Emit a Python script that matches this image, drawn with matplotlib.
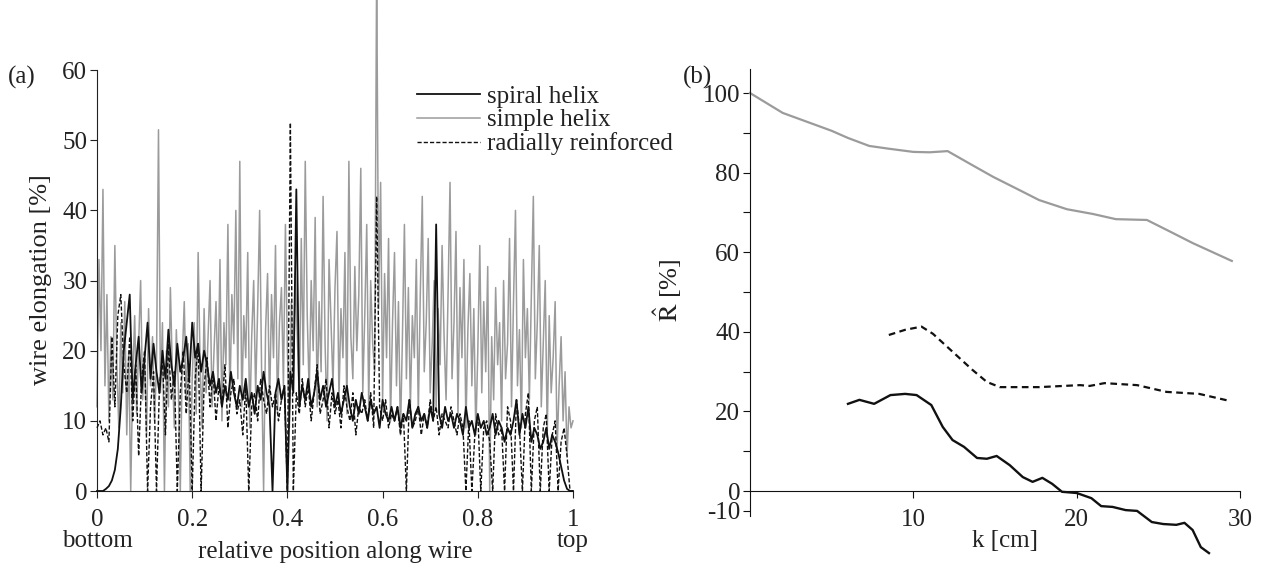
import numpy as np
import matplotlib
matplotlib.use("Agg")
import matplotlib.pyplot as plt

plt.rcParams['font.family'] = ['Liberation Serif', 'DejaVu Serif']
plt.rcParams['mathtext.fontset'] = 'stix'
plt.rcParams['font.size'] = 18

# ---------------- data: panel (a) ----------------
simple_helix = [
    12, 33, 20, 43, 15, 28, 10, 22, 13, 35,
    18, 9, 24, 14, 27, 8, 20, 0, 16, 25,
    11, 21, 30, 13, 19, 8, 26, 15, 22, 10,
    18, 51.5, 14, 24, 0, 20, 12, 29, 17, 9,
    23, 15, 0, 19, 27, 13, 21, 0, 16, 24,
    11, 34, 18, 9, 26, 14, 22, 30, 12, 20,
    27, 15, 33, 10, 24, 18, 38, 13, 28, 21,
    40, 16, 47, 12, 25, 19, 34, 9, 22, 30,
    14, 26, 40, 17, 0, 23, 31, 12, 28, 19,
    35, 11, 24, 29, 15, 38, 20, 9, 27, 16,
    31, 22, 13, 36, 18, 47, 25, 14, 30, 20,
    39, 12, 27, 17, 42, 21, 10, 33, 24, 15,
    29, 37, 13, 26, 19, 34, 11, 47, 22, 16,
    32, 20, 28, 46, 14, 25, 38, 12, 30, 21,
    17, 75, 26, 44, 13, 31, 19, 36, 10, 24,
    34, 15, 27, 8, 22, 38, 16, 29, 12, 25,
    19, 33, 11, 28, 42, 17, 24, 36, 14, 21,
    30, 12, 26, 18, 35, 22, 13, 28, 44, 16,
    24, 37, 11, 29, 19, 33, 9, 23, 31, 15,
    26, 8, 20, 35, 14, 27, 17, 32, 0, 22,
    13, 29, 18, 24, 10, 30, 16, 21, 36, 12,
    27, 40, 15, 23, 9, 33, 19, 26, 13, 28,
    42, 16, 24, 35, 12, 21, 30, 8, 25, 14,
    19, 27, 6, 15, 22, 10, 17, 5, 12, 9,
    10]

spiral_helix = [
    0, 0, 0, 0.3, 0.7, 1.5, 3, 6, 12, 20,
    24, 28, 13, 18, 22, 14, 19, 24, 16, 21,
    17, 14, 20, 16, 23, 18, 15, 21, 17, 19,
    22, 16, 24, 19, 21, 17, 20, 18, 15, 17,
    14, 16, 12, 15, 13, 17, 14, 12, 15, 13,
    16, 12, 14, 11, 15, 13, 17, 14, 12, 0,
    14, 16, 13, 15, 0, 17, 14, 43, 12, 15,
    13, 16, 12, 14, 17, 13, 15, 12, 14, 16,
    12, 14, 11, 13, 15, 12, 10, 13, 11, 14,
    12, 10, 13, 11, 12, 9, 13, 11, 10, 12,
    10, 12, 9, 11, 10, 13, 9, 11, 12, 10,
    11, 9, 12, 10, 38, 11, 9, 12, 10, 11,
    9, 11, 10, 8, 12, 9, 10, 8, 11, 9,
    10, 8, 9, 11, 8, 10, 9, 7, 9, 8,
    10, 13, 8, 11, 9, 12, 7, 9, 8, 6,
    7, 9, 6, 8, 7, 5.5, 3.5, 1.5, 0.3, 0,
    0]

radially_reinforced = [
    9, 10, 8, 9, 7, 22, 12, 25, 28, 18,
    14, 22, 10, 18, 5, 16, 20, 0, 12, 17,
    0, 15, 19, 8, 21, 13, 17, 0, 14, 20,
    11, 18, 0, 16, 21, 0, 15, 19, 12, 17,
    10, 15, 12, 18, 9, 14, 16, 11, 13, 8,
    15, 0, 12, 14, 10, 16, 13, 11, 15, 12,
    14, 10, 13, 15, 0, 52.5, 0, 14, 11, 16,
    12, 15, 10, 14, 18, 11, 13, 16, 9, 14,
    11, 13, 9, 15, 12, 10, 14, 8, 12, 11,
    13, 10, 14, 9, 42, 12, 10, 13, 9, 11,
    10, 12, 8, 11, 0, 13, 9, 10, 12, 8,
    11, 9, 13, 10, 12, 8, 11, 10, 9, 12,
    10, 8, 11, 9, 0, 10, 0, 8, 11, 0,
    9, 10, 7, 0, 11, 8, 9, 0, 12, 10,
    0, 13, 9, 0, 11, 14, 0, 10, 12, 0,
    9, 11, 0, 8, 10, 0, 7, 9, 5, 0,
    0]

a_xticks = [0, 0.2, 0.4, 0.6, 0.8, 1]
a_xticklabels = ["0\nbottom", "0.2", "0.4", "0.6", "0.8", "1\ntop"]
a_yticks = [0, 10, 20, 30, 40, 50, 60]

# ---------------- data: panel (b) ----------------
k_simple = [0, 1, 2, 3, 4, 5, 6, 7.3, 8.5, 10, 11, 12.1, 13.6, 14.9, 16.5,
            17.7, 19.4, 21, 22.4, 24.3, 25.9, 27.1, 29.5]
r_simple = [100, 97.5, 95, 93.5, 92, 90.5, 88.7, 86.7, 86, 85.2, 85.1, 85.4,
            81.9, 78.9, 75.6, 73.1, 70.8, 69.6, 68.3, 68.1, 64.8, 62.3, 57.8]

k_spiral = [6.0, 6.7, 7.6, 8.6, 9.5, 10.2, 11.1, 11.8, 12.4, 13.1, 13.9, 14.5,
            15.1, 15.9, 16.7, 17.3, 17.9, 18.5, 19.1, 20.0, 20.9, 21.5, 22.2,
            23.0, 23.7, 24.6, 25.3, 26.1, 26.6, 27.1, 27.6, 28.1]
r_spiral = [21.9, 22.9, 21.9, 24.1, 24.4, 24.1, 21.6, 16.1, 12.8, 11.1, 8.3, 8.1,
            8.8, 6.5, 3.5, 2.3, 3.3, 1.8, -0.2, -0.5, -1.8, -3.8, -4.0,
            -4.8, -5.0, -7.8, -8.3, -8.5, -8.0, -9.8, -14.1, -15.6]

k_radial = [8.5, 9.5, 10.5, 11.2, 12, 12.8, 13.6, 14.5, 15.3, 17.7, 20.2, 20.8,
            21.7, 23.7, 25.5, 27.5, 29.4]
r_radial = [39.2, 40.5, 41.3, 39.5, 36.5, 33.5, 30.5, 27.4, 26.1, 26.1, 26.6,
            26.4, 27.1, 26.6, 24.9, 24.4, 22.6]

b_xticks = [10, 20, 30]
b_yticks_major = [0, 20, 40, 60, 80, 100]
b_yticks_minor = [10, 30, 50, 70, 90]
b_ytick_neg_pos = -5.0     # where the reference draws its "-10" tick
b_ytick_neg_label = "-10"

GRAY = '#9b9b9b'
BLACK = '#111111'
TXT = '#222222'

W, H = 1271, 576
fig = plt.figure(figsize=(W / 100, H / 100), dpi=100)

def fx(px):
    return px / W

def fy(py):
    return 1 - py / H

# ---------- panel (a) ----------
ax1 = fig.add_axes([fx(97), fy(491), fx(573) - fx(97), fy(0) - fy(491)])
xg = np.linspace(0, 1, len(simple_helix))
xa = np.linspace(0, 1, len(spiral_helix))
ax1.plot(xg, simple_helix, color=GRAY, lw=1.1, label='simple helix', clip_on=False, zorder=2)
ax1.plot(xa, radially_reinforced, color=BLACK, lw=1.0, ls=(0, (3, 1.5)),
         label='radially reinforced', clip_on=False, zorder=3)
ax1.plot(xa, spiral_helix, color=BLACK, lw=1.3, label='spiral helix', clip_on=False, zorder=4)
ax1.set_xlim(0, 1)
ax1.set_ylim(0, 70)
for s in ['top', 'right']:
    ax1.spines[s].set_visible(False)
ax1.spines['left'].set_bounds(0, 60)
ax1.spines['bottom'].set_bounds(0, 1)
ax1.spines['left'].set_color(TXT)
ax1.spines['bottom'].set_color(TXT)
ax1.set_xticks(a_xticks)
ax1.set_xticklabels(a_xticklabels, linespacing=0.95)
ax1.set_yticks(a_yticks)
ax1.set_yticklabels([str(v) for v in a_yticks])
ax1.tick_params(direction='out', length=5, width=0.8, colors=TXT, labelsize=18)
ax1.tick_params(axis='x', pad=8)
ax1.tick_params(axis='y', pad=2)
ax1.set_ylabel('wire elongation [%]', fontsize=19, color=TXT)
ax1.yaxis.set_label_coords(-0.095, 0.43)
fig.text(fx(335), fy(552), 'relative position along wire', fontsize=18, color=TXT,
         ha='center', va='center')
handles, labels = ax1.get_legend_handles_labels()
order = [2, 0, 1]
ax1.legend([handles[i] for i in order], [labels[i] for i in order],
           loc='upper left', bbox_to_anchor=(fx(417), fy(85)), bbox_transform=fig.transFigure,
           frameon=False, borderpad=0, borderaxespad=0, handlelength=2.5,
           handletextpad=0.3, labelspacing=0.05, fontsize=18, labelcolor=TXT)
fig.text(fx(8), fy(77), '(a)', fontsize=18, color=TXT, va='center', ha='left')

# ---------- panel (b) ----------
top_px, bot_px = 60, 560
ppu = (491 - 93) / 100.0
ax2 = fig.add_axes([fx(750), fy(bot_px), fx(1240) - fx(750), fy(top_px) - fy(bot_px)])
ax2.plot(k_simple, r_simple, color=GRAY, lw=1.6, clip_on=False)
ax2.plot(k_radial, r_radial, color=BLACK, lw=1.6, ls=(0, (3, 2)), clip_on=False)
ax2.plot(k_spiral, r_spiral, color=BLACK, lw=1.7, clip_on=False)
ax2.set_xlim(0, 30)
ax2.set_ylim((491 - bot_px) / ppu, (491 - top_px) / ppu)
for s in ['top', 'right']:
    ax2.spines[s].set_visible(False)
ax2.spines['bottom'].set_position(('data', 0))
ax2.spines['bottom'].set_bounds(0, 30)
ax2.spines['left'].set_bounds(-6.3, 106)
ax2.spines['left'].set_color(BLACK)
ax2.spines['bottom'].set_color(BLACK)
ax2.set_xticks(b_xticks)
ax2.set_xticklabels([str(v) for v in b_xticks])
ax2.set_yticks([b_ytick_neg_pos] + b_yticks_major)
ax2.set_yticklabels([b_ytick_neg_label] + [str(v) for v in b_yticks_major])
ax2.set_yticks(b_yticks_minor, minor=True)
ax2.tick_params(which='both', direction='out', length=5, width=0.8, colors=BLACK,
                labelcolor=TXT, labelsize=18)
ax2.tick_params(axis='x', pad=8)
ax2.tick_params(axis='y', pad=2)
ax2.set_ylabel(r'$\hat{\mathrm{R}}$ [%]', fontsize=19, color=TXT)
ax2.yaxis.set_label_coords(-0.135, 0.54)
fig.text(fx(1005), fy(541), 'k [cm]', fontsize=18, color=TXT, ha='center', va='center')
fig.text(fx(683), fy(77), '(b)', fontsize=18, color=TXT, va='center', ha='left')

fig.savefig('out.png', dpi=100)
